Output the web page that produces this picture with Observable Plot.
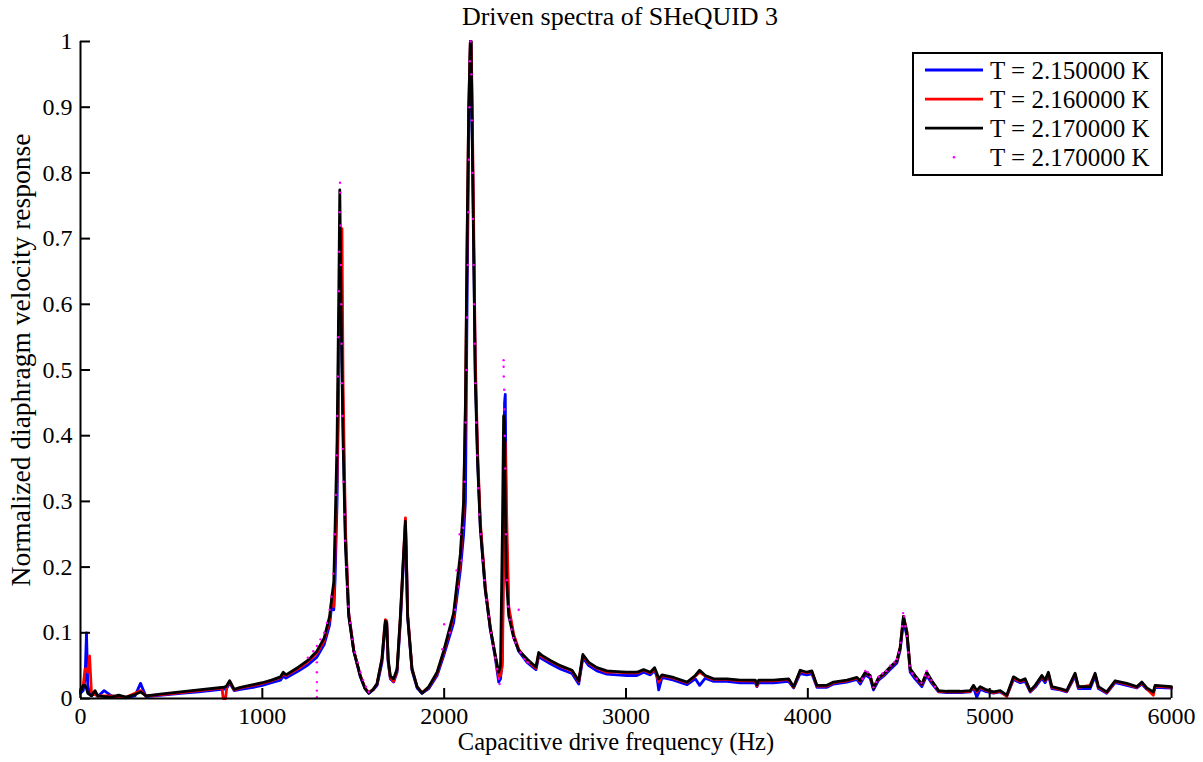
<!DOCTYPE html>
<html>
<head>
<meta charset="utf-8">
<script src="https://cdn.jsdelivr.net/npm/d3@7"></script>
<script src="https://cdn.jsdelivr.net/npm/@observablehq/plot@0.6"></script>
<style>
  html, body { margin: 0; padding: 0; background: #fff; }
  #chart { width: 1203px; height: 762px; }
</style>
</head>
<body>
<div id="chart"></div>
<script>
// ---- Data ----
const titleText = "Driven spectra of SHeQUID 3";
const xLabel = "Capacitive drive frequency (Hz)";
const yLabel = "Normalized diaphragm velocity response";
const legendLabels = ["T = 2.150000 K", "T = 2.160000 K", "T = 2.170000 K", "T = 2.170000 K"];
const xTicks = [0, 1000, 2000, 3000, 4000, 5000, 6000];
const xTickLabels = ["0", "1000", "2000", "3000", "4000", "5000", "6000"];
const yTicks = [0, 0.1, 0.2, 0.3, 0.4, 0.5, 0.6, 0.7, 0.8, 0.9, 1];
const yTickLabels = ["0", "0.1", "0.2", "0.3", "0.4", "0.5", "0.6", "0.7", "0.8", "0.9", "1"];

// frequency grid (Hz) shared by the three line series
const freq = [0,15,25,33,40,50,60,80,95,130,170,210,250,300,330,360,450,550,650,750,778,785,798,805,820,845,880,950,1000,1050,1100,1115,1130,1200,1250,1300,1340,1370,1385,1393,1400,1411,1420,1426,1433,1438,1444,1457,1475,1503,1539,1565,1585,1610,1631,1658,1672,1677,1684,1692,1704,1722,1741,1759,1775,1787,1793,1799,1823,1851,1878,1915,1961,1997,2052,2089,2107,2117,2126,2135,2144,2148,2153,2162,2171,2184,2199,2226,2254,2281,2300,2310,2320,2327,2332,2336,2342,2355,2382,2410,2456,2505,2520,2540,2584,2639,2703,2740,2763,2795,2840,2895,2950,3005,3060,3097,3134,3157,3170,3180,3198,3262,3336,3381,3405,3436,3482,3555,3628,3711,3720,3730,3811,3894,3922,3958,3995,4022,4050,4105,4141,4215,4270,4288,4316,4343,4361,4389,4416,4453,4490,4508,4526,4545,4563,4590,4627,4654,4682,4719,4764,4838,4893,4911,4929,4948,4975,5021,5058,5094,5131,5168,5195,5223,5250,5287,5305,5323,5342,5387,5424,5470,5488,5552,5580,5598,5644,5690,5754,5809,5837,5864,5900,5910,6000];

// T = 2.170000 K (black line)
const black = [.010,.020,.020,.015,.008,.006,.004,.012,.004,.003,.002,.005,.002,.006,.010,.004,.007,.010,.013,.016,.017,.017,.018,.020,.027,.014,.017,.021,.024,.028,.033,.040,.036,.048,.058,.072,.092,.125,.160,.178,.260,.392,.605,.774,.605,.500,.392,.232,.125,.072,.034,.015,.008,.014,.023,.061,.105,.118,.115,.060,.034,.030,.045,.125,.210,.270,.200,.125,.045,.018,.008,.018,.040,.072,.130,.220,.300,.450,.700,.900,1.0,1.0,.884,.686,.486,.357,.258,.165,.106,.066,.040,.050,.250,.430,.420,.300,.186,.126,.093,.073,.060,.048,.070,.065,.058,.050,.043,.027,.067,.055,.047,.042,.041,.040,.040,.044,.040,.047,.038,.030,.036,.032,.025,.035,.043,.035,.030,.030,.028,.028,.021,.028,.028,.030,.018,.043,.040,.042,.020,.020,.025,.028,.032,.027,.040,.035,.015,.032,.037,.048,.058,.078,.125,.100,.045,.035,.022,.040,.027,.012,.011,.011,.012,.020,.012,.018,.014,.010,.012,.005,.033,.027,.030,.012,.020,.035,.028,.040,.018,.015,.012,.0385,.018,.018,.0385,.018,.010,.027,.023,.018,.025,.016,.010,.020,.018];

// T = 2.150000 K (blue line)
const blue = [.008,.012,.030,.100,.020,.008,.004,.008,.003,.012,.004,.003,.001,.004,.023,.003,.005,.008,.010,.013,.014,.014,.015,.016,.024,.012,.014,.017,.020,.024,.028,.034,.031,.042,.051,.063,.082,.112,.150,.135,.180,.300,.480,.640,.690,.550,.420,.250,.130,.072,.033,.015,.008,.013,.020,.055,.100,.115,.112,.055,.030,.025,.040,.115,.200,.265,.205,.125,.043,.016,.008,.015,.035,.065,.115,.195,.250,.300,.600,.850,1.0,1.0,.900,.700,.500,.365,.262,.168,.105,.062,.025,.030,.060,.300,.450,.463,.250,.135,.095,.072,.055,.044,.064,.060,.053,.045,.038,.022,.062,.050,.042,.037,.036,.035,.035,.040,.036,.043,.033,.013,.032,.028,.021,.030,.020,.031,.026,.026,.024,.024,.018,.024,.024,.026,.016,.038,.036,.038,.017,.017,.022,.025,.029,.022,.036,.031,.013,.028,.034,.044,.054,.074,.118,.095,.040,.030,.018,.035,.023,.010,.009,.009,.010,.017,.002,.014,.011,.008,.010,.004,.029,.024,.026,.010,.017,.031,.024,.036,.015,.013,.010,.034,.015,.015,.034,.015,.008,.024,.020,.016,.022,.014,.009,.017,.016];

// T = 2.160000 K (red line)
const red = [.012,.020,.045,.045,.040,.065,.010,.006,.004,.004,.004,.003,.002,.008,.012,.004,.006,.009,.012,.015,.016,.000,.000,.019,.026,.013,.016,.020,.023,.027,.032,.038,.035,.046,.056,.069,.088,.120,.160,.140,.220,.340,.520,.680,.700,.715,.480,.260,.130,.073,.035,.016,.009,.014,.022,.060,.108,.120,.118,.058,.032,.026,.043,.122,.210,.275,.210,.130,.046,.018,.009,.017,.038,.070,.125,.210,.290,.440,.680,.900,1.0,1.0,.930,.730,.520,.375,.268,.170,.108,.065,.033,.035,.050,.200,.350,.390,.300,.140,.098,.075,.058,.046,.068,.063,.057,.049,.042,.026,.065,.054,.046,.040,.040,.039,.039,.043,.039,.045,.036,.025,.035,.031,.024,.034,.040,.034,.029,.029,.027,.027,.019,.027,.027,.029,.017,.042,.039,.041,.019,.019,.024,.027,.031,.026,.039,.034,.016,.031,.036,.047,.057,.078,.125,.102,.044,.034,.021,.039,.026,.011,.010,.010,.011,.019,.010,.017,.013,.009,.011,.003,.031,.026,.029,.011,.019,.034,.027,.038,.017,.014,.011,.037,.017,.020,.037,.017,.009,.026,.022,.017,.024,.015,.005,.019,.017];

// T = 2.170000 K (magenta point markers)
const freqM = [1250,1280,1300,1300,1300,1300,1300,1300,1320,1340,1355,1370,1380,1390,1398,1404,1408,1412,1415,1418,1421,1423,1425,1427,1428,1430,1432,1434,1436,1438,1440,1443,1446,1450,1455,1460,1466,1474,1483,1495,1510,1525,1540,1555,1570,1585,1990,2000,2030,2060,2068,2080,2085,2095,2105,2112,2118,2122,2126,2130,2133,2136,2139,2141,2145,2150,2153,2156,2159,2162,2165,2168,2172,2176,2181,2187,2193,2200,2210,2220,2232,2245,2258,2270,2282,2292,2300,2305,2327,2327,2328,2330,2331,2333,2336,2340,2345,2352,2360,2370,2380,2392,2410,2420,2440,2460,4300,4316,4330,4345,4361,4375,4390,4410,4430,4453,4475,4490,4500,4510,4518,4524,4530,4537,4545,4552,4560,4575,4600,4625,4645,4654,4665,4680,4700];
const magenta = [.062,.072,.080,.055,.040,.025,.012,.002,.090,.100,.115,.135,.155,.190,.250,.310,.370,.430,.490,.550,.620,.680,.740,.785,.770,.720,.660,.600,.540,.480,.430,.380,.330,.280,.240,.200,.170,.140,.115,.090,.070,.055,.040,.028,.018,.010,.075,.113,.100,.135,.195,.170,.250,.210,.260,.330,.420,.500,.580,.660,.740,.820,.900,.970,1.0,.950,.880,.800,.730,.660,.600,.540,.480,.420,.370,.320,.280,.250,.210,.180,.150,.125,.100,.080,.062,.045,.030,.022,.515,.505,.490,.470,.440,.400,.350,.250,.180,.140,.120,.105,.092,.085,.135,.070,.060,.055,.030,.042,.040,.033,.017,.025,.033,.038,.042,.050,.055,.060,.070,.085,.110,.130,.125,.110,.095,.070,.050,.038,.030,.024,.035,.042,.033,.028,.018];

// ---- Build tables ----
const rows = freq.map((f, i) => ({f, k: black[i], b: blue[i], r: red[i]}));
const pts = freqM.map((f, i) => ({f, v: magenta[i]}));

const font = "'Liberation Serif', 'Times New Roman', serif";

const chart = Plot.plot({
  width: 1203,
  height: 762,
  marginLeft: 80,
  marginRight: 32,
  marginTop: 41,
  marginBottom: 64,
  style: {fontFamily: font, fontSize: "24px", background: "#fff", color: "#000"},
  x: {domain: [0, 6000]},
  y: {domain: [0, 1]},
  marks: [
    Plot.lineY(rows, {x: "f", y: "b", stroke: "#0000ff", strokeWidth: 2.8}),
    Plot.lineY(rows, {x: "f", y: "r", stroke: "#ff0000", strokeWidth: 2.8}),
    Plot.lineY(rows, {x: "f", y: "k", stroke: "#000000", strokeWidth: 2.8}),
    Plot.dot(pts, {x: "f", y: "v", r: 1.2, fill: "#ff00ff", stroke: null}),
    Plot.ruleX([0], {strokeWidth: 2}),
    Plot.ruleY([0], {strokeWidth: 2}),
    Plot.axisX(xTicks, {tickSize: -10, tickPadding: 18, strokeWidth: 2, fontSize: 24,
      tickFormat: d => xTickLabels[xTicks.indexOf(d)], label: null}),
    Plot.axisY(yTicks, {tickSize: -10, tickPadding: 18, strokeWidth: 2, fontSize: 24,
      tickFormat: d => yTickLabels[yTicks.indexOf(d)], label: null})
  ]
});

document.getElementById("chart").appendChild(chart);

// ---- Title, axis labels, legend ----
const svg = d3.select(chart);
svg.append("text").attr("x", 620).attr("y", 25).attr("text-anchor", "middle")
  .style("font-family", font).style("font-size", "26px").attr("fill", "#000").text(titleText);
svg.append("text").attr("x", 616).attr("y", 750).attr("text-anchor", "middle")
  .style("font-family", font).style("font-size", "24.5px").attr("fill", "#000").text(xLabel);
svg.append("text").attr("transform", "translate(30,360) rotate(-90)").attr("text-anchor", "middle")
  .style("font-family", font).style("font-size", "27.5px").attr("fill", "#000").text(yLabel);

const lg = svg.append("g");
lg.append("rect").attr("x", 913).attr("y", 53).attr("width", 249).attr("height", 122)
  .attr("fill", "#fff").attr("stroke", "#000").attr("stroke-width", 2);
const legendColors = ["#0000ff", "#ff0000", "#000000", "#ff00ff"];
legendLabels.forEach((lab, i) => {
  const cy = 70 + i * 29.1;
  if (i < 3) {
    lg.append("line").attr("x1", 925).attr("x2", 983).attr("y1", cy).attr("y2", cy)
      .attr("stroke", legendColors[i]).attr("stroke-width", 2.8);
  } else {
    lg.append("circle").attr("cx", 954).attr("cy", cy).attr("r", 1.3).attr("fill", legendColors[i]);
  }
  lg.append("text").attr("x", 990).attr("y", cy + 8.5).attr("text-anchor", "start")
    .style("font-family", font).style("font-size", "25px").attr("fill", "#000").text(lab);
});
</script>
</body>
</html>
